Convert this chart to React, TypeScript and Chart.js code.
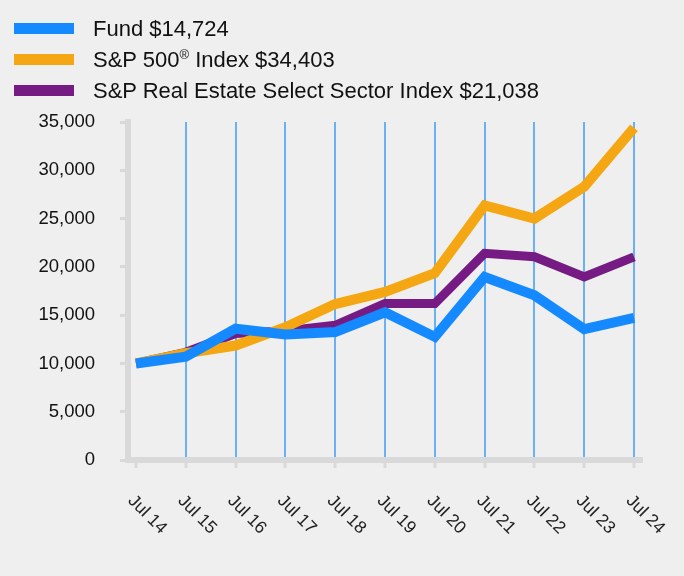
import React, { useEffect, useRef } from "react";
import { Chart, registerables } from "chart.js";

Chart.register(...registerables);

const categories = ["Jul 14", "Jul 15", "Jul 16", "Jul 17", "Jul 18", "Jul 19", "Jul 20", "Jul 21", "Jul 22", "Jul 23", "Jul 24"];
const fundValues = [10000, 10700, 13600, 13000, 13250, 15300, 12750, 18950, 17050, 13550, 14724];
const sp500Values = [10000, 11050, 11850, 13750, 16150, 17400, 19350, 26350, 25000, 28300, 34403];
const realEstateValues = [10000, 11150, 13100, 13350, 13950, 16200, 16200, 21400, 21050, 18950, 21038];
const yMin = 0;
const yMax = 35000;
const yStep = 5000;

const FONT = '"Liberation Sans", Arial, Helvetica, sans-serif';
const BLUE = "#1589FF";
const ORANGE = "#F4A713";
const PURPLE = "#761B83";
const AXIS_GRAY = "#D9D9D9";
const GRID_BLUE = "#6AB0F7";

export default function App() {
  const ref = useRef<HTMLCanvasElement | null>(null);

  useEffect(() => {
    if (!ref.current) return;
    const xLabelPlugin = {
      id: "rotatedXLabels",
      afterDraw(chart: any) {
        const ctx = chart.ctx;
        const xs = chart.scales.x;
        const baseY = chart.chartArea.bottom + 32;
        ctx.save();
        ctx.font = `17.5px ${FONT}`;
        ctx.fillStyle = "#222222";
        ctx.textAlign = "left";
        ctx.textBaseline = "top";
        categories.forEach((c, i) => {
          const x = xs.getPixelForValue(i);
          ctx.save();
          ctx.translate(x + 1, baseY);
          ctx.rotate(Math.PI / 4);
          ctx.fillText(c, 0, 0);
          ctx.restore();
        });
        ctx.restore();
      },
    };

    const toPoints = (arr: number[]) => arr.map((v, i) => ({ x: i, y: v }));

    const chart = new Chart(ref.current, {
      type: "line",
      data: {
        datasets: [
          {
            label: "Fund $14,724",
            data: toPoints(fundValues),
            borderColor: BLUE,
            backgroundColor: BLUE,
            borderWidth: 10,
            pointRadius: 0,
            tension: 0,
            fill: false,
          },
          {
            label: "S&P 500® Index $34,403",
            data: toPoints(sp500Values),
            borderColor: ORANGE,
            backgroundColor: ORANGE,
            borderWidth: 10,
            pointRadius: 0,
            tension: 0,
            fill: false,
          },
          {
            label: "S&P Real Estate Select Sector Index $21,038",
            data: toPoints(realEstateValues),
            borderColor: PURPLE,
            backgroundColor: PURPLE,
            borderWidth: 9,
            pointRadius: 0,
            tension: 0,
            fill: false,
          },
        ],
      },
      options: {
        animation: false,
        responsive: false,
        maintainAspectRatio: false,
        devicePixelRatio: 1,
        layout: { padding: { top: 122, right: 42, left: 0, bottom: 0 } },
        plugins: {
          legend: { display: false },
          tooltip: { enabled: false },
        },
        events: [],
        scales: {
          x: {
            type: "linear",
            min: -0.16,
            max: categories.length - 1 + 0.16,
            afterFit: (s: any) => {
              s.height = 116;
            },
            ticks: {
              stepSize: 1,
              includeBounds: false,
              display: false,
            },
            grid: {
              drawOnChartArea: true,
              drawTicks: true,
              tickLength: 8,
              tickColor: AXIS_GRAY,
              tickWidth: 3,
              lineWidth: 2,
              color: (ctx: any) => (ctx.index === 0 ? "rgba(0,0,0,0)" : GRID_BLUE),
            },
            border: { display: true, width: 6, color: AXIS_GRAY },
          },
          y: {
            type: "linear",
            min: yMin,
            max: yMax,
            afterFit: (s: any) => {
              s.width = 128;
            },
            ticks: {
              stepSize: yStep,
              padding: 25,
              color: "#111111",
              font: { family: FONT, size: 18.5 },
              callback: (v: any) => Number(v).toLocaleString("en-US"),
            },
            grid: {
              drawOnChartArea: false,
              drawTicks: true,
              tickLength: 8,
              tickColor: AXIS_GRAY,
              tickWidth: 3,
            },
            border: { display: true, width: 6, color: AXIS_GRAY },
          },
        },
      },
      plugins: [xLabelPlugin],
    } as any);

    return () => chart.destroy();
  }, []);

  const rowStyle = (top: number): React.CSSProperties => ({
    position: "absolute",
    left: 0,
    top,
    height: 31,
    display: "flex",
    alignItems: "center",
    whiteSpace: "nowrap",
  });
  const swatch = (color: string): React.CSSProperties => ({
    width: 60,
    height: 11,
    background: color,
    marginLeft: 14,
    marginRight: 19,
    flex: "none",
  });
  const textStyle: React.CSSProperties = {
    fontFamily: FONT,
    fontSize: 22,
    color: "#111111",
    lineHeight: "31px",
  };

  return (
    <div
      style={{
        position: "absolute",
        left: 0,
        top: 0,
        width: 684,
        height: 576,
        background: "#EFEFEF",
        overflow: "hidden",
      }}
    >
      <canvas
        ref={ref}
        width={684}
        height={576}
        style={{ position: "absolute", left: 0, top: 0, width: 684, height: 576 }}
      />
      <div style={rowStyle(13)}>
        <div style={swatch(BLUE)} />
        <span style={textStyle}>Fund $14,724</span>
      </div>
      <div style={rowStyle(44)}>
        <div style={swatch(ORANGE)} />
        <span style={textStyle}>
          S&amp;P 500<sup style={{ fontSize: 13, verticalAlign: "top", lineHeight: "22px" }}>®</sup> Index $34,403
        </span>
      </div>
      <div style={rowStyle(75)}>
        <div style={swatch(PURPLE)} />
        <span style={textStyle}>S&amp;P Real Estate Select Sector Index $21,038</span>
      </div>
    </div>
  );
}
